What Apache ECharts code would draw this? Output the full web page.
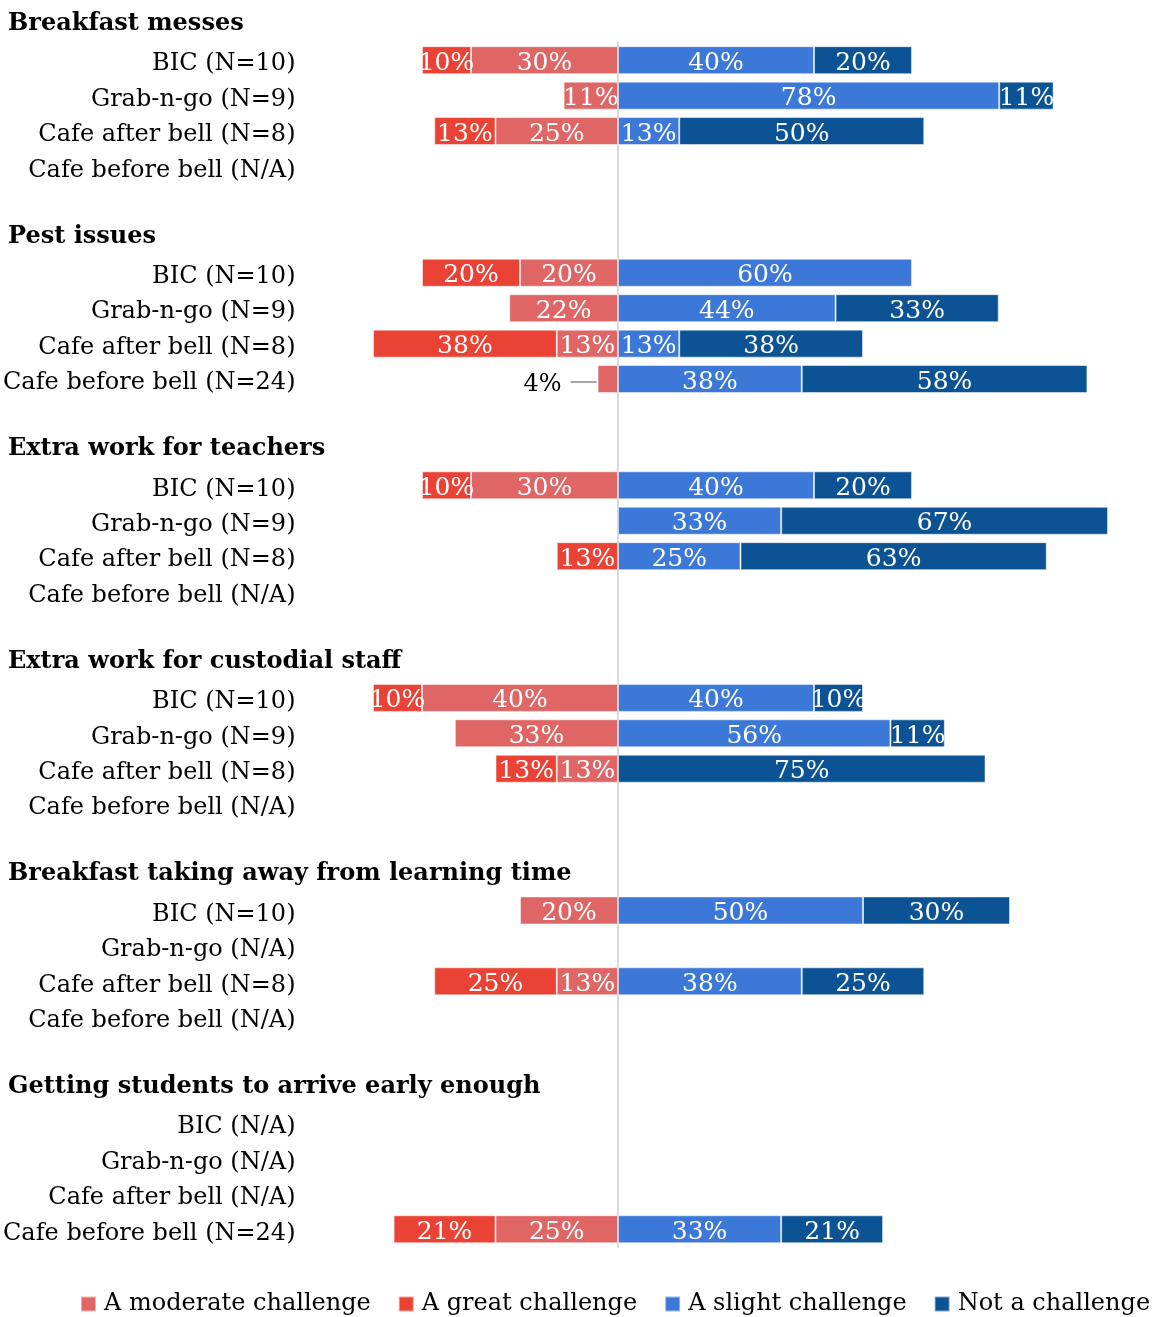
<!DOCTYPE html>
<html>
<head>
<meta charset="utf-8">
<script src="https://cdn.jsdelivr.net/npm/echarts@6/dist/echarts.min.js"></script>
<style>
  html, body { margin: 0; padding: 0; background: #fff; }
  #chart { width: 1160px; height: 1317px; }
</style>
</head>
<body>
<div id="chart"></div>
<script>
// group headings
let headers = [
    "Breakfast messes",
    "Pest issues",
    "Extra work for teachers",
    "Extra work for custodial staff",
    "Breakfast taking away from learning time",
    "Getting students to arrive early enough"
];

// 4 rows per group
let rowLabels = [
    "BIC (N=10)", "Grab-n-go (N=9)", "Cafe after bell (N=8)", "Cafe before bell (N/A)",
    "BIC (N=10)", "Grab-n-go (N=9)", "Cafe after bell (N=8)", "Cafe before bell (N=24)",
    "BIC (N=10)", "Grab-n-go (N=9)", "Cafe after bell (N=8)", "Cafe before bell (N/A)",
    "BIC (N=10)", "Grab-n-go (N=9)", "Cafe after bell (N=8)", "Cafe before bell (N/A)",
    "BIC (N=10)", "Grab-n-go (N/A)", "Cafe after bell (N=8)", "Cafe before bell (N/A)",
    "BIC (N/A)", "Grab-n-go (N/A)", "Cafe after bell (N/A)", "Cafe before bell (N=24)"
];

// percentages, null = no bar
let moderate = [30, 11.1, 25, null,  20, 22.2, 12.5, 4.17,  30, null, null, null,  40, 33.3, 12.5, null,  20, null, 12.5, null,  null, null, null, 25];
let great    = [10, null, 12.5, null,  20, null, 37.5, null,  10, null, 12.5, null,  10, null, 12.5, null,  null, null, 25, null,  null, null, null, 20.8];
let slight   = [40, 77.8, 12.5, null,  60, 44.4, 12.5, 37.5,  40, 33.3, 25, null,  40, 55.6, null, null,  50, null, 37.5, null,  null, null, null, 33.3];
let notChal  = [20, 11.1, 50, null,  null, 33.3, 37.5, 58.3,  20, 66.7, 62.5, null,  10, 11.1, 75, null,  30, null, 25, null,  null, null, null, 20.8];

let seriesNames = ["A moderate challenge", "A great challenge", "A slight challenge", "Not a challenge"];
let colors = ["#E06666", "#EA4335", "#3C78D8", "#0B5394"];

let FONT = "DejaVu Serif";

// build the slot list: rows, then (blank, header, rows) for later groups
let slots = [];
for (let g = 0; g < headers.length; g++) {
    if (g > 0) {
        slots.push({ type: "blank", text: "" });
        slots.push({ type: "header", text: "", group: g });
    }
    for (let r = 0; r < 4; r++) {
        slots.push({ type: "row", text: rowLabels[g * 4 + r], src: g * 4 + r });
    }
}
let catIds = slots.map((s, i) => "c" + i);

function mapData(arr, sign) {
    return slots.map(s => {
        if (s.type !== "row") return "-";
        let v = arr[s.src];
        return v == null ? "-" : sign * v;
    });
}

function pctLabel(p) {
    return Math.round(Math.abs(p.value)) + "%";
}

let moderateData = mapData(moderate, -1);
// small slice with an outside label and leader line
moderateData = moderateData.map((v, i) => {
    if (v !== "-" && Math.abs(v) < 6) {
        return {
            value: v,
            label: {
                position: "left",
                distance: 1,
                formatter: "{v|" + Math.round(Math.abs(v)) + "%}{g|}",
                rich: {
                    v: { fontFamily: FONT, fontSize: 24, color: "#000", padding: [6, 9, 0, 0] },
                    g: { width: 26, height: 2, backgroundColor: "#a6a6a6" }
                }
            }
        };
    }
    return v;
});

let dataSets = [moderateData, mapData(great, -1), mapData(slight, 1), mapData(notChal, 1)];

let chartDom = document.getElementById("chart");
let chart = echarts.init(chartDom);

let option = {
    animation: false,
    backgroundColor: "#fff",
    grid: {
        left: 299.5,
        right: 52,
        top: 42.5,
        bottom: 70,
        containLabel: false,
        outerBoundsMode: "none"
    },
    legend: {
        data: seriesNames,
        left: 80,
        top: 1292,
        width: 1100,
        padding: 0,
        icon: "rect",
        itemWidth: 15,
        itemHeight: 15,
        itemGap: 27,
        textStyle: { fontFamily: FONT, fontSize: 24, color: "#000", padding: [0, 0, 0, 3] }
    },
    xAxis: {
        type: "value",
        min: -65,
        max: 100,
        show: false
    },
    yAxis: [
        {
            // center line at zero
            type: "category",
            data: catIds,
            inverse: true,
            axisLine: { show: true, onZero: true, lineStyle: { color: "#d9d9d9", width: 2 } },
            axisTick: { show: false },
            axisLabel: { show: false },
            splitLine: { show: false }
        },
        {
            type: "category",
            data: catIds,
            inverse: true,
            position: "left",
            axisLine: { show: false, onZero: false },
            axisTick: { show: false },
            splitLine: { show: false },
            axisLabel: {
                margin: 4,
                interval: 0,
                formatter: (val, idx) => slots[idx].text ? "{a|" + slots[idx].text + "}" : "",
                rich: {
                    a: { fontFamily: FONT, fontSize: 24, color: "#000", padding: [8, 0, 0, 0] }
                }
            }
        }
    ],
    series: seriesNames.map((name, i) => ({
        name: name,
        type: "bar",
        stack: "total",
        barWidth: 28,
        data: dataSets[i],
        itemStyle: { color: colors[i], borderColor: "rgba(255,255,255,0.5)", borderWidth: 1 },
        label: {
            show: true,
            position: "inside",
            color: "#fff",
            fontFamily: FONT,
            fontSize: 25,
            offset: [0, 3],
            formatter: pctLabel
        }
    }))
};

chart.setOption(option);

// group headings, placed on the category slots
let step = chart.convertToPixel({ yAxisIndex: 0 }, 1) - chart.convertToPixel({ yAxisIndex: 0 }, 0);
let headerGraphics = headers.map((h, g) => {
    let y;
    if (g === 0) {
        y = chart.convertToPixel({ yAxisIndex: 0 }, 0) - step;
    } else {
        let idx = slots.findIndex(s => s.type === "header" && s.group === g);
        y = chart.convertToPixel({ yAxisIndex: 0 }, idx);
    }
    return {
        type: "text",
        left: 8,
        top: y - 13,
        style: {
            text: h,
            fontFamily: FONT,
            fontSize: 24,
            fontWeight: "bold",
            fill: "#000"
        }
    };
});
chart.setOption({ graphic: headerGraphics });
</script>
</body>
</html>
